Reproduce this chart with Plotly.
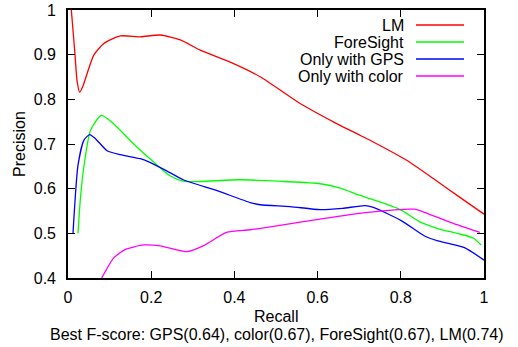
import plotly.graph_objects as go

# ---- data ----
series_names = ["LM", "ForeSight", "Only with GPS", "Only with color"]
series_colors = ["#ff0000", "#00ff00", "#0000ff", "#ff00ff"]

lm_recall = [0.008, 0.016, 0.022, 0.028, 0.036, 0.046, 0.062, 0.086, 0.126, 0.174, 0.222,
             0.270, 0.318, 0.398, 0.463, 0.559, 0.639, 0.703, 0.735, 0.815, 0.879, 0.943, 1.0]
lm_precision = [1.0, 0.91, 0.84, 0.816, 0.830, 0.858, 0.899, 0.925, 0.942, 0.940, 0.944,
                0.933, 0.910, 0.880, 0.850, 0.790, 0.749, 0.719, 0.704, 0.663, 0.622, 0.580, 0.543]

fs_recall = [0.024, 0.030, 0.038, 0.054, 0.080, 0.110, 0.158, 0.197, 0.245, 0.277, 0.317,
             0.413, 0.517, 0.606, 0.655, 0.698, 0.735, 0.799, 0.847, 0.895, 0.940, 0.975, 0.993]
fs_precision = [0.50, 0.58, 0.648, 0.730, 0.764, 0.745, 0.700, 0.667, 0.629, 0.617, 0.616,
                0.620, 0.616, 0.611, 0.601, 0.586, 0.575, 0.553, 0.525, 0.509, 0.499, 0.489, 0.474]

gps_recall = [0.012, 0.024, 0.038, 0.052, 0.066, 0.094, 0.126, 0.174, 0.197, 0.237, 0.277,
              0.357, 0.438, 0.462, 0.534, 0.606, 0.660, 0.714, 0.734, 0.802, 0.857, 0.889, 0.953, 1.0]
gps_precision = [0.50, 0.652, 0.708, 0.721, 0.712, 0.685, 0.676, 0.667, 0.659, 0.640, 0.620,
                 0.596, 0.569, 0.564, 0.560, 0.553, 0.556, 0.562, 0.558, 0.528, 0.494, 0.483, 0.468, 0.440]

color_recall = [0.081, 0.110, 0.138, 0.182, 0.222, 0.285, 0.325, 0.381, 0.438, 0.517, 0.606,
                0.721, 0.833, 0.857, 0.921, 0.990]
color_precision = [0.40, 0.445, 0.464, 0.474, 0.472, 0.459, 0.472, 0.502, 0.508, 0.519, 0.532,
                   0.547, 0.554, 0.547, 0.524, 0.502]

x_ticks = [0, 0.2, 0.4, 0.6, 0.8, 1]
y_ticks = [0.4, 0.5, 0.6, 0.7, 0.8, 0.9, 1]
x_title = "Recall"
y_title = "Precision"
caption = "Best F-score: GPS(0.64), color(0.67), ForeSight(0.67), LM(0.74)"

xs = [lm_recall, fs_recall, gps_recall, color_recall]
ys = [lm_precision, fs_precision, gps_precision, color_precision]

# ---- layout constants ----
W, H = 518, 347
L, R, T, B = 68, 34, 10, 69
PW, PH = W - L - R, H - T - B
FONT = "Liberation Sans, Arial, Helvetica, sans-serif"


def px2paper(px, py):
    return (px - L) / PW, (T + PH - py) / PH


fig = go.Figure()
for name, color, x, y in zip(series_names, series_colors, xs, ys):
    fig.add_trace(go.Scatter(x=x, y=y, mode="lines", name=name,
                             line=dict(color=color, width=1.3, shape="spline", smoothing=0.6),
                             showlegend=False, cliponaxis=True))

axis_common = dict(showline=True, linecolor="black", linewidth=1.6, mirror="ticks",
                   ticks="inside", ticklen=7, tickwidth=1.4, tickcolor="black",
                   showgrid=False, zeroline=False, fixedrange=True,
                   tickfont=dict(family=FONT, size=16, color="black"))

fig.update_layout(
    width=W, height=H,
    margin=dict(l=L, r=R, t=T, b=B, autoexpand=False),
    plot_bgcolor="white", paper_bgcolor="white",
    xaxis=dict(range=[0, 1], tickvals=x_ticks, ticklabelstandoff=4, **axis_common),
    yaxis=dict(range=[0.4, 1], tickvals=y_ticks, ticklabelstandoff=7, **axis_common),
    font=dict(family=FONT, size=16, color="black"),
)

annos = []
# axis titles and caption
px_, py_ = px2paper(19, 144)
annos.append(dict(x=px_, y=py_, xref="paper", yref="paper", text=y_title, showarrow=False,
                  textangle=-90, xanchor="center", yanchor="middle", font=dict(size=16)))
px_, py_ = px2paper(276, 316)
annos.append(dict(x=px_, y=py_, xref="paper", yref="paper", text=x_title, showarrow=False,
                  xanchor="center", yanchor="middle", font=dict(size=16)))
px_, py_ = px2paper(276.5, 334)
annos.append(dict(x=px_, y=py_, xref="paper", yref="paper", text=caption, showarrow=False,
                  xanchor="center", yanchor="middle", font=dict(size=16)))

# gnuplot-style legend: right-aligned text, sample line on the right
shapes = []
row_y = [25, 42, 59, 76]
for name, color, ry in zip(series_names, series_colors, row_y):
    tx, ty = px2paper(406, ry)
    annos.append(dict(x=tx, y=ty, xref="paper", yref="paper", text=name, showarrow=False,
                      xanchor="right", yanchor="middle", font=dict(size=16)))
    x0, y0 = px2paper(416, ry)
    x1, _ = px2paper(464, ry)
    shapes.append(dict(type="line", xref="paper", yref="paper", x0=x0, x1=x1, y0=y0, y1=y0,
                       line=dict(color=color, width=1.3)))

fig.update_layout(annotations=annos, shapes=shapes)
fig.write_html("out.html", config={"displayModeBar": False},
               post_script="document.body.style.margin='0';document.body.style.padding='0';")
